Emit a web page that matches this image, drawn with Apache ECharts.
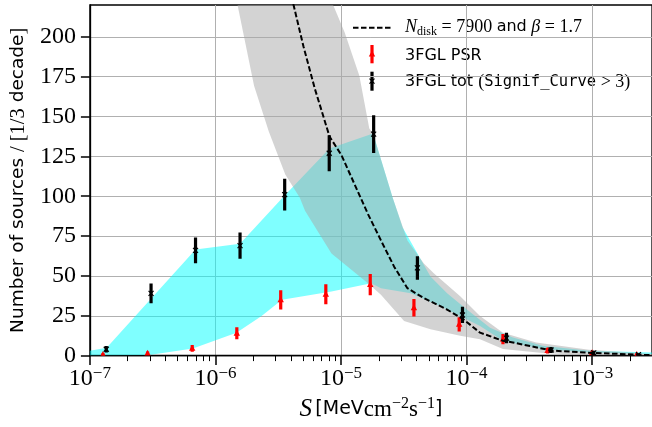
<!DOCTYPE html>
<html>
<head>
<meta charset="utf-8">
<script src="https://cdn.jsdelivr.net/npm/echarts@6/dist/echarts.min.js"></script>
<style>html,body{margin:0;padding:0;background:#fff}#c{width:652px;height:427px}</style>
</head>
<body>
<div id="c"></div>
<script>
// ---- data (flux S in MeV cm^-2 s^-1, counts per 1/3 decade) ----
const totS   = [1.35e-7, 3.07e-7, 6.94e-7, 1.57e-6, 3.56e-6, 8.06e-6, 1.82e-5, 4.06e-5, 9.28e-5, 2.08e-4, 4.71e-4, 1.03e-3, 2.34e-3];
const totN   = [4, 39, 66, 69, 101, 127, 139, 55, 25.5, 11, 3.5, 1.7, 0.6];
const totErr = [2, 6.2, 8.1, 8.3, 10, 11.3, 11.8, 7.4, 5.1, 3.3, 1.9, 1.3, 0.8];

const psrS   = [1.27e-7, 2.88e-7, 6.53e-7, 1.48e-6, 3.31e-6, 7.57e-6, 1.71e-5, 3.81e-5, 8.74e-5, 1.95e-4, 4.42e-4, 1.00e-3, 2.27e-3];
const psrN   = [0.6, 1.4, 4.5, 14, 35, 38.5, 44.5, 30, 19.6, 10.3, 3.1, 1.7, 0.6];
const psrErr = [0.8, 1.2, 2.1, 3.8, 6, 6.2, 6.7, 5.5, 4.4, 3.2, 1.8, 1.3, 0.8];

const modelS = [3.39e-6, 4.19e-6, 5.02e-6, 6.20e-6, 8.10e-6, 1.008e-5, 1.64e-5, 2.08e-5, 2.65e-5, 3.38e-5, 4.57e-5, 7.00e-5, 9.45e-5, 1.28e-4, 1.95e-4, 2.34e-4, 4.85e-4, 9.96e-4, 2.9e-3];
const modelN = [255, 220, 194.1, 167.3, 137.5, 125.8, 88.8, 72.3, 55.8, 42.3, 36.1, 28.9, 22.7, 14.4, 9.3, 8.2, 3.1, 1.7, 0.3];

const cyanUpS = [1.0e-7, 1.36e-7, 6.94e-7, 1.57e-6, 3.51e-6, 8.10e-6, 1.80e-5, 2.58e-5, 3.09e-5, 5.16e-5, 7.00e-5, 1.006e-4, 1.54e-4, 2.34e-4, 4.04e-4, 9.44e-4, 3.0e-3];
const cyanUpN = [3.1, 5.0, 66.5, 70.2, 100, 130, 139.4, 99.1, 80.5, 49.6, 39.2, 28.9, 17.5, 11.3, 6.2, 3.1, 2.0];
const cyanLoS = [1.0e-7, 2.97e-7, 6.61e-7, 1.47e-6, 2.33e-6, 3.39e-6, 8.40e-6, 1.74e-5, 2.08e-5, 3.59e-5, 6.19e-5, 9.45e-5, 1.28e-4, 1.95e-4, 4.04e-4, 9.44e-4, 3.0e-3];
const cyanLoN = [0, 0.4, 4.5, 14.4, 24.8, 35, 40.3, 45.4, 42.3, 39.2, 31.0, 23.7, 18.6, 9.3, 4.2, 2.0, 0.8];

const grayUpS = [4.87e-6, 8.66e-6, 1.07e-5, 1.40e-5, 1.68e-5, 1.80e-5, 2.58e-5, 3.38e-5, 4.57e-5, 5.48e-5, 8.90e-5, 1.28e-4, 1.95e-4, 3.58e-4, 9.44e-4, 3.0e-3];
const grayUpN = [267, 220, 202.7, 175.6, 142.5, 139.4, 99.1, 72.3, 57.8, 51.6, 37.2, 24.8, 14.4, 8.2, 3.7, 1.0];
const grayLoS = [1.25e-6, 1.50e-6, 2.03e-6, 2.66e-6, 3.60e-6, 4.70e-6, 5.17e-6, 8.40e-6, 1.64e-5, 2.08e-5, 3.18e-5, 5.16e-5, 8.90e-5, 1.28e-4, 1.95e-4, 4.04e-4, 9.44e-4, 3.0e-3];
const grayLoN = [250, 220, 169.3, 140.6, 113.6, 99.1, 90.9, 64.0, 45.4, 38.2, 21.7, 16.5, 12.4, 10.3, 4.2, 1.7, 0.4, 0];

const xTickExp = [-7, -6, -5, -4, -3];
const yTicks = [0, 25, 50, 75, 100, 125, 150, 175, 200];

// ---- build ----
const L = Math.log10;
const xMin = -7, xMax = L(3e-3);
const minorTicks = [];
for (let n = -7; n <= -3; n++) for (let k = 2; k <= 9; k++) { const v = L(k * Math.pow(10, n)); if (v < xMax) minorTicks.push(v); }

function pts(S, N) { return S.map((s, i) => [L(s), N[i]]); }

function bandSeries(upS, upN, loS, loN, fill) {
  const up = pts(upS, upN), lo = pts(loS, loN);
  return {
    type: 'custom', clip: true, silent: true,
    data: [[up[0][0], up[0][1]]],
    renderItem: function (params, api) {
      const poly = [];
      lo.forEach(p => poly.push(api.coord(p)));
      up.slice().reverse().forEach(p => poly.push(api.coord(p)));
      return { type: 'polygon', shape: { points: poly }, style: { fill: fill, stroke: null } };
    }
  };
}

function errSeries(S, N, E, color, marker) {
  return {
    type: 'custom', clip: true, silent: true,
    data: S.map((s, i) => [L(s), N[i], E[i]]),
    renderItem: function (params, api) {
      const x = api.value(0), y = api.value(1), e = api.value(2);
      const c = api.coord([x, y]);
      const lo = api.coord([x, y - e]), hi = api.coord([x, y + e]);
      const children = [{
        type: 'line', shape: { x1: lo[0], y1: lo[1], x2: hi[0], y2: hi[1] },
        style: { stroke: color, lineWidth: 3.2 }
      }];
      if (marker === 'x') {
        children.push({ type: 'line', shape: { x1: c[0] - 2.5, y1: c[1] - 2.5, x2: c[0] + 2.5, y2: c[1] + 2.5 }, style: { stroke: color, lineWidth: 1.2 } });
        children.push({ type: 'line', shape: { x1: c[0] - 2.5, y1: c[1] + 2.5, x2: c[0] + 2.5, y2: c[1] - 2.5 }, style: { stroke: color, lineWidth: 1.2 } });
      } else {
        children.push({ type: 'polygon', shape: { points: [[c[0], c[1] - 3.6], [c[0] + 3.2, c[1] + 2.4], [c[0] - 3.2, c[1] + 2.4]] }, style: { fill: color } });
      }
      return { type: 'group', children: children };
    }
  };
}

const serif = 'Liberation Serif';
const sans = 'DejaVu Sans';

const option = {
  animation: false,
  backgroundColor: '#fff',
  grid: { left: 86, right: -2, top: 5, bottom: 67, show: true, borderColor: '#000', borderWidth: 1.3, backgroundColor: 'transparent' },
  xAxis: [{
    type: 'value', min: xMin, max: xMax, interval: 1, position: 'bottom',
    axisLine: { show: true, lineStyle: { color: '#000', width: 1.3 } },
    axisTick: { show: true, customValues: xTickExp, length: 9.5, lineStyle: { color: '#000', width: 1.5 } },
    axisLabel: {
      customValues: xTickExp, margin: 9,
      formatter: v => '{b|10}{s|\u2212' + Math.round(-v) + '}',
      rich: {
        b: { fontFamily: serif, fontSize: 24, color: '#000', lineHeight: 28 },
        s: { fontFamily: serif, fontSize: 17, color: '#000', lineHeight: 16, verticalAlign: 'top' }
      }
    },
    splitLine: { show: true, lineStyle: { color: '#b0b0b0', width: 1 } },
    name: '{i|S} {s|[MeV}{r|cm}{p|\u22122}{r|s}{p|\u22121}{s|]}',
    nameLocation: 'middle', nameGap: 32,
    nameTextStyle: {
      rich: {
        i: { fontFamily: serif, fontStyle: 'italic', fontSize: 25, color: '#000', lineHeight: 28 },
        s: { fontFamily: sans, fontSize: 19, color: '#000', lineHeight: 28 },
        r: { fontFamily: serif, fontSize: 23, color: '#000', lineHeight: 28 },
        p: { fontFamily: serif, fontSize: 16, color: '#000', lineHeight: 16, verticalAlign: 'top' }
      }
    }
  }, {
    type: 'value', min: xMin, max: xMax, position: 'bottom',
    axisLine: { show: false },
    axisTick: { show: true, customValues: minorTicks, length: 5.5, lineStyle: { color: '#000', width: 1 } },
    axisLabel: { show: false },
    splitLine: { show: false }
  }],
  yAxis: {
    type: 'value', min: 0, max: 220, interval: 25,
    axisLine: { show: true, lineStyle: { color: '#000', width: 1.3 } },
    axisTick: { show: true, customValues: yTicks, length: 9, lineStyle: { color: '#000', width: 1.5 } },
    axisLabel: { customValues: yTicks, margin: 14, fontFamily: serif, fontSize: 24, color: '#000', padding: [3, 0, 0, 0] },
    splitLine: { show: true, lineStyle: { color: '#b0b0b0', width: 1 } },
    name: '{s|Number of sources }{r|/ [1/3}{s| decade}{r|]}',
    nameLocation: 'middle', nameGap: 53,
    nameTextStyle: {
      rich: {
        s: { fontFamily: sans, fontSize: 18.5, color: '#000' },
        r: { fontFamily: serif, fontSize: 20.5, color: '#000' }
      }
    }
  },
  series: [
    bandSeries(cyanUpS, cyanUpN, cyanLoS, cyanLoN, 'rgba(0,255,255,0.5)'),
    bandSeries(grayUpS, grayUpN, grayLoS, grayLoN, 'rgba(167,167,167,0.5)'),
    {
      type: 'line', name: 'model', data: pts(modelS, modelN), showSymbol: false, symbol: 'none', clip: true,
      lineStyle: { color: '#000', width: 2, type: [5.5, 2.5] }, silent: true
    },
    errSeries(psrS, psrN, psrErr, '#ff0000', 'tri'),
    errSeries(totS, totN, totErr, '#000000', 'x')
  ],
  graphic: [
    { type: 'polyline', shape: { points: [[353, 27.7], [392, 27.7]] }, style: { stroke: '#000', lineWidth: 2, lineDash: [5.5, 2.5] } },
    { type: 'text', x: 405, y: 27, style: {
        text: '{i|N}{b|disk}{r| = 7900 }{s|and}{r| }{i|\u03b2}{r| = 1.7}', verticalAlign: 'middle',
        rich: {
          i: { fontFamily: serif, fontStyle: 'italic', fontSize: 18, fill: '#000', lineHeight: 22 },
          b: { fontFamily: serif, fontSize: 12, fill: '#000', lineHeight: 14, verticalAlign: 'bottom' },
          r: { fontFamily: serif, fontSize: 18, fill: '#000', lineHeight: 22 },
          s: { fontFamily: sans, fontSize: 16, fill: '#000', lineHeight: 22 }
        } } },
    { type: 'line', shape: { x1: 372, y1: 45, x2: 372, y2: 63.3 }, style: { stroke: '#ff0000', lineWidth: 3.2 } },
    { type: 'polygon', shape: { points: [[372, 50.4], [375.2, 56.4], [368.8, 56.4]] }, style: { fill: '#ff0000' } },
    { type: 'text', x: 405, y: 56, style: { text: '3FGL PSR', verticalAlign: 'middle', fontFamily: sans, fontSize: 16, fill: '#000' } },
    { type: 'line', shape: { x1: 372, y1: 71.7, x2: 372, y2: 90.7 }, style: { stroke: '#000', lineWidth: 3.2 } },
    { type: 'line', shape: { x1: 369.5, y1: 78.7, x2: 374.5, y2: 83.7 }, style: { stroke: '#000', lineWidth: 1.2 } },
    { type: 'line', shape: { x1: 369.5, y1: 83.7, x2: 374.5, y2: 78.7 }, style: { stroke: '#000', lineWidth: 1.2 } },
    { type: 'text', x: 405, y: 82, style: {
        text: '{s|3FGL tot }{r|(}{t|Signif_Curve}{r| > 3)}', verticalAlign: 'middle',
        rich: {
          s: { fontFamily: sans, fontSize: 16, fill: '#000', lineHeight: 22 },
          r: { fontFamily: serif, fontSize: 18, fill: '#000', lineHeight: 22 },
          t: { fontFamily: 'DejaVu Sans Mono', fontSize: 15.5, fill: '#000', lineHeight: 22 }
        } } }
  ]
};

const chart = echarts.init(document.getElementById('c'), null, { renderer: 'canvas' });
chart.setOption(option);
</script>
</body>
</html>
